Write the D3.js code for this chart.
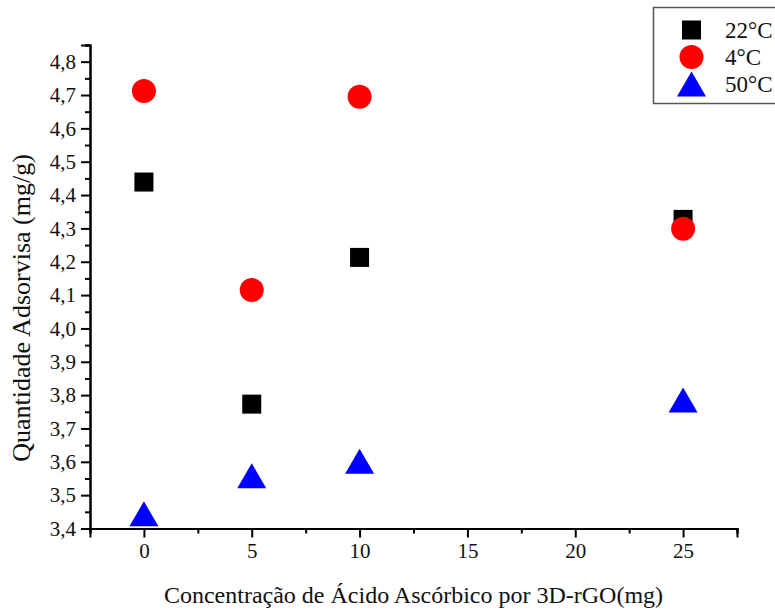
<!DOCTYPE html>
<html>
<head>
<meta charset="utf-8">
<script src="https://cdn.jsdelivr.net/npm/d3@7"></script>
<style>
  html, body { margin: 0; padding: 0; background: #fff; }
  svg { display: block; }
</style>
</head>
<body>
<svg id="chart" width="775" height="610" font-family="Liberation Serif, Times New Roman, serif"></svg>
<script>
// Ascorbic acid concentration (mg) per 3D-rGO
const concentrations = [0, 5, 10, 25];
// Adsorbed amount (mg/g) at each temperature
const series22 = [4.439, 3.773, 4.213, 4.327];
const series4 = [4.712, 4.115, 4.695, 4.299];
const series50 = [3.444, 3.558, 3.602, 3.785];
const seriesNames = ["22°C", "4°C", "50°C"];
const xMajorTicks = [0, 5, 10, 15, 20, 25];
const yMajorTicks = [3.4, 3.5, 3.6, 3.7, 3.8, 3.9, 4.0, 4.1, 4.2, 4.3, 4.4, 4.5, 4.6, 4.7, 4.8];

const FONT = "Liberation Serif, Times New Roman, serif";
const svg = d3.select("#chart");
const margin = { left: 90, right: 38, top: 45, bottom: 81.5 };
const W = 775, H = 610;

const x = d3.scaleLinear().domain([-2.5, 27.5]).range([margin.left, W - margin.right]);
const y = d3.scaleLinear().domain([3.4, 4.85]).range([H - margin.bottom, margin.top]);

const fmt = d => d3.format(".1f")(d).replace(".", ",");

// X axis: minor ticks, then major ticks with labels
const xMinor = d3.range(-2.5, 27.6, 5);
const xAxisG = svg.append("g").attr("transform", `translate(0,${y(3.4)})`);
xAxisG.append("g").call(d3.axisBottom(x).tickValues(xMinor).tickSize(5).tickFormat(""));
xAxisG.append("g").call(d3.axisBottom(x).tickValues(xMajorTicks).tickSize(9).tickPadding(6).tickFormat(d3.format("d")));

// Y axis: minor ticks, then major ticks with labels
const yMinor = d3.range(3.45, 4.86, 0.1);
const yAxisG = svg.append("g").attr("transform", `translate(${x(-2.5)},0)`);
yAxisG.append("g").call(d3.axisLeft(y).tickValues(yMinor).tickSize(5).tickFormat(""));
yAxisG.append("g").call(d3.axisLeft(y).tickValues(yMajorTicks).tickSize(9).tickPadding(5).tickFormat(fmt));

svg.selectAll("g[font-family]").attr("font-family", FONT);
svg.selectAll(".domain").attr("stroke", "#000").attr("stroke-width", 2);
svg.selectAll(".tick line").attr("stroke", "#000").attr("stroke-width", 2);
svg.selectAll(".tick text").attr("font-size", 21).attr("font-family", FONT).attr("fill", "#111");

// Axis titles
svg.append("text")
  .attr("x", (x(-2.5) + x(27.5)) / 2)
  .attr("y", 603)
  .attr("text-anchor", "middle")
  .attr("font-family", FONT)
  .attr("font-size", 24)
  .attr("fill", "#111")
  .text("Concentração de Ácido Ascórbico por 3D-rGO(mg)");

svg.append("text")
  .attr("transform", "translate(30,308) rotate(-90)")
  .attr("text-anchor", "middle")
  .attr("font-family", FONT)
  .attr("font-size", 26)
  .attr("fill", "#111")
  .text("Quantidade Adsorvisa (mg/g)");

// Marker shapes
const sq = 19, cr = 12, tw = 29, th = 25;
function square(g, cx, cy) {
  g.append("rect").attr("x", cx - sq / 2).attr("y", cy - sq / 2).attr("width", sq).attr("height", sq).attr("fill", "#000");
}
function circle(g, cx, cy) {
  g.append("circle").attr("cx", cx).attr("cy", cy).attr("r", cr).attr("fill", "#ff0000");
}
function triangle(g, cx, cy) {
  g.append("path").attr("d", `M${cx},${cy - th / 2}L${cx + tw / 2},${cy + th / 2}L${cx - tw / 2},${cy + th / 2}Z`).attr("fill", "#0000ff");
}

const marks = svg.append("g");
concentrations.forEach((c, i) => square(marks, x(c), y(series22[i])));
concentrations.forEach((c, i) => circle(marks, x(c), y(series4[i])));
concentrations.forEach((c, i) => triangle(marks, x(c), y(series50[i])));

// Legend
const lg = svg.append("g");
lg.append("rect").attr("x", 653.5).attr("y", 7.5).attr("width", 130).attr("height", 96)
  .attr("fill", "#fff").attr("stroke", "#555").attr("stroke-width", 1.5);
const drawers = [square, circle, triangle];
const rowY = [30, 57, 84];
seriesNames.forEach((name, i) => {
  drawers[i](lg, 691.5, rowY[i]);
  lg.append("text").attr("x", 725).attr("y", rowY[i] + 8)
    .attr("font-family", FONT).attr("font-size", 23).attr("fill", "#111").text(name);
});
</script>
</body>
</html>
